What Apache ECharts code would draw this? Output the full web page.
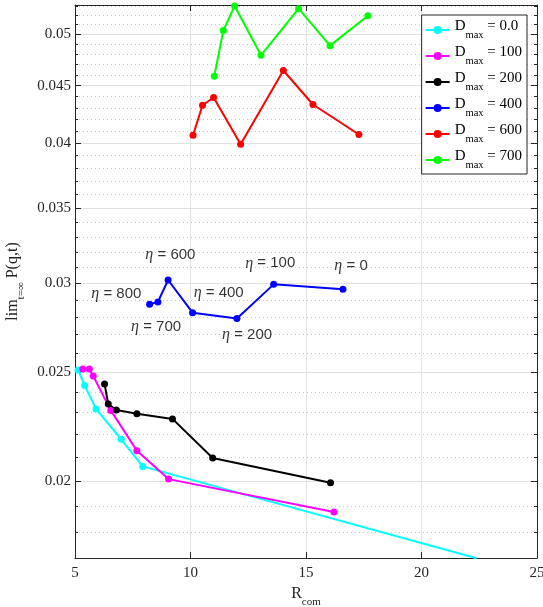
<!DOCTYPE html>
<html>
<head>
<meta charset="utf-8">
<script src="https://cdn.jsdelivr.net/npm/echarts@6/dist/echarts.min.js"></script>
<style>html,body{margin:0;padding:0;background:#fff}#main{width:543px;height:607px}</style>
</head>
<body>
<div id="main"></div>
<script>
// D_max series, x = R_com, y = lim P(q,t)
var dmaxNames = ['0.0', '100', '200', '400', '600', '700'];
var colors = ['#00ffff', '#ff00ff', '#000000', '#0000ff', '#ff0000', '#00ff00'];

var r0 = [5.13, 5.42, 5.91, 7.00, 7.93, 22.39];
var p0 = [0.02511, 0.02432, 0.02318, 0.02178, 0.02060, 0.01706];
var r100 = [5.34, 5.62, 5.79, 6.55, 7.68, 9.05, 16.21];
var p100 = [0.02516, 0.02516, 0.02480, 0.02311, 0.02127, 0.02007, 0.01876];
var r200 = [6.28, 6.44, 6.79, 7.68, 9.22, 10.96, 16.06];
var p200 = [0.02440, 0.02341, 0.02313, 0.02295, 0.02271, 0.02096, 0.01992];
var r400 = [8.23, 8.59, 9.03, 10.09, 12.01, 13.60, 16.60];
var p400 = [0.02873, 0.02887, 0.03020, 0.02824, 0.02790, 0.02993, 0.02963];
var r600 = [10.11, 10.52, 11.00, 12.17, 14.02, 15.30, 17.29];
var p600 = [0.04065, 0.04323, 0.04392, 0.03991, 0.04642, 0.04329, 0.04071];
var r700 = [11.03, 11.42, 11.91, 13.05, 14.68, 16.04, 17.68];
var p700 = [0.04588, 0.05038, 0.05300, 0.04789, 0.05270, 0.04885, 0.05195];

// eta annotations on the D_max = 400 curve
var etaText = ['800', '600', '700', '400', '200', '100', '0'];
var etaX = [6.79, 9.13, 8.51, 11.22, 12.45, 13.45, 16.95];
var etaY = [0.02938, 0.03178, 0.02741, 0.02944, 0.02698, 0.03125, 0.03109];

var yMajor = [0.02, 0.025, 0.03, 0.035, 0.04, 0.045, 0.05];
var yMinor = [0.018, 0.019, 0.021, 0.022, 0.023, 0.024, 0.026, 0.027, 0.028, 0.029,
  0.031, 0.032, 0.033, 0.034, 0.036, 0.037, 0.038, 0.039, 0.041, 0.042, 0.043, 0.044,
  0.046, 0.047, 0.048, 0.049, 0.051, 0.052, 0.053];
var yMin = 0.01707, yMax = 0.0531;

var lg = function (v) { return Math.log10(v); };
var xs = [r0, r100, r200, r400, r600, r700];
var ys = [p0, p100, p200, p400, p600, p700];

var axisColor = '#262626';
var serif = '"Liberation Serif", "DejaVu Serif", serif';

// main text + lowered subscript
function subRich(color, size, subSize) {
  return {
    a: { fontFamily: serif, fontSize: size, color: color, verticalAlign: 'top' },
    s: { fontFamily: serif, fontSize: subSize, color: color, verticalAlign: 'bottom', padding: [11, 0, 0, 0] }
  };
}

var series = dmaxNames.map(function (n, i) {
  return {
    name: n,
    type: 'line',
    data: xs[i].map(function (x, j) { return [x, lg(ys[i][j])]; }),
    symbol: 'circle',
    symbolSize: 7,
    color: colors[i],
    lineStyle: { width: 2 },
    z: 3
  };
});
series.push({
  type: 'scatter',
  data: etaX.map(function (x, j) { return [x, lg(etaY[j]), etaText[j]]; }),
  symbolSize: 1,
  itemStyle: { color: 'rgba(0,0,0,0)' },
  label: {
    show: true,
    position: 'inside',
    formatter: function (p) { return '{e|η}{t| = ' + p.value[2] + '}'; },
    rich: {
      e: { fontFamily: serif, fontStyle: 'italic', fontSize: 16, color: '#000' },
      t: { fontFamily: '"Liberation Sans", Arial, sans-serif', fontSize: 15, color: '#000' }
    }
  },
  z: 4
});

var yBase = { type: 'value', min: lg(yMin), max: lg(yMax), scale: true };

var myChart = echarts.init(document.getElementById('main'));
var option = {
  animation: false,
  backgroundColor: '#fff',
  grid: { left: 75, right: 6, top: 5, bottom: 49, outerBoundsMode: 'none', containLabel: false },
  legend: {
    orient: 'vertical',
    right: 16,
    top: 15,
    data: dmaxNames,
    itemWidth: 24,
    itemHeight: 10,
    itemGap: 4,
    padding: [4, 5, 3, 3],
    backgroundColor: '#fff',
    borderColor: axisColor,
    borderWidth: 1,
    borderRadius: 0,
    formatter: function (n) { return '{a|D}{s|max}{a| = ' + n + '}'; },
    textStyle: { rich: subRich('#000', 15, 10.5) }
  },
  xAxis: [{
    type: 'value', min: 5, max: 25, interval: 5, position: 'bottom',
    axisLine: { show: true, lineStyle: { color: axisColor } },
    axisTick: { inside: true, length: 6, lineStyle: { color: axisColor } },
    axisLabel: { fontFamily: serif, fontSize: 15, color: axisColor, margin: 8 },
    splitLine: { show: true, lineStyle: { color: '#e2e2e2' } },
    name: '{a|R}{s|com}',
    nameLocation: 'middle',
    nameGap: 20,
    nameTextStyle: { rich: subRich(axisColor, 16, 11) }
  }, {
    type: 'value', min: 5, max: 25, interval: 5, position: 'top',
    axisLine: { show: true, onZero: false, lineStyle: { color: axisColor } },
    axisTick: { inside: true, length: 6, lineStyle: { color: axisColor } },
    axisLabel: { show: false },
    splitLine: { show: false }
  }],
  yAxis: [
    Object.assign({}, yBase, {
      position: 'left',
      axisLine: { show: true, onZero: false, lineStyle: { color: axisColor } },
      axisTick: { inside: true, length: 6, customValues: yMajor.map(lg), lineStyle: { color: axisColor } },
      axisLabel: {
        customValues: yMajor.map(lg),
        fontFamily: serif, fontSize: 15, color: axisColor, margin: 4,
        formatter: function (v) { return String(+Math.pow(10, v).toPrecision(3)); }
      },
      splitLine: { show: true, lineStyle: { color: '#e2e2e2' } },
      name: '{a|lim}{s|t=∞}{a| P(q,t)}',
      nameLocation: 'middle',
      nameGap: 45,
      nameTextStyle: { rich: subRich(axisColor, 16, 11) }
    }),
    Object.assign({}, yBase, {
      position: 'right',
      axisLine: { show: true, onZero: false, lineStyle: { color: axisColor } },
      axisTick: { inside: true, length: 6, customValues: yMajor.map(lg), lineStyle: { color: axisColor } },
      axisLabel: { show: false },
      splitLine: { show: false }
    }),
    Object.assign({}, yBase, {
      position: 'left',
      axisLine: { show: false },
      axisTick: { inside: true, length: 3, customValues: yMinor.map(lg), lineStyle: { color: axisColor } },
      axisLabel: { show: false },
      splitLine: { show: true, lineStyle: { color: '#c4c4c4', type: [1, 3] } }
    }),
    Object.assign({}, yBase, {
      position: 'right',
      axisLine: { show: false },
      axisTick: { inside: true, length: 3, customValues: yMinor.map(lg), lineStyle: { color: axisColor } },
      axisLabel: { show: false },
      splitLine: { show: false }
    })
  ],
  series: series
};
myChart.setOption(option);
</script>
</body>
</html>
